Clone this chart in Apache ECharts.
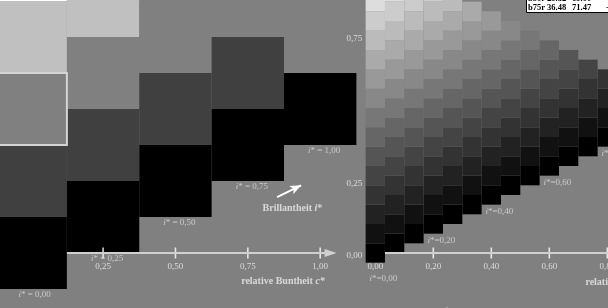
<!DOCTYPE html>
<html>
<head>
<meta charset="utf-8">
<script src="https://cdn.jsdelivr.net/npm/echarts@6/dist/echarts.min.js"></script>
<style>
  html, body { margin: 0; padding: 0; background: #808080; }
  #chart { width: 608px; height: 308px; }
</style>
</head>
<body>
<div id="chart"></div>
<script>
// left panel: relative Buntheit c* in quarter steps, gray level of each row (bottom = black)
const leftChroma = [0, 0.25, 0.5, 0.75, 1.0];
const leftLevels = [0, 64, 128, 192, 255];
const leftTicks = [0.25, 0.5, 0.75, 1.0];
const leftMarked = [0, 2]; // column, row of the outlined cell

// right panel: c* in steps of 1/15, 16 gray levels
const rightChroma = [0, 0.0667, 0.1333, 0.2, 0.2667, 0.3333, 0.4, 0.4667, 0.5333, 0.6, 0.6667, 0.7333, 0.8, 0.8667, 0.9333, 1.0];
const rightLevels = [0, 17, 34, 51, 68, 85, 102, 119, 136, 153, 170, 187, 204, 221, 238, 255];
const rightXLabels = [0, 0.2, 0.4, 0.6, 0.8, 1.0];
const rightTicks = [0.2, 0.4, 0.6, 0.8, 1.0];
const rightYLabels = [0, 0.25, 0.75];
const rightLabelCols = [0, 3, 6, 9, 12, 15];

const legendRows = [
  ['b50r', '29.32', '69.00', '-31.07'],
  ['b75r', '36.48', '71.47', '-22.64'],
];
const footText = 'rel. Buntheit c* und Brillantheit i* der Farbreihe b75r; CIELAB-Daten und Farbmetrik nach DIN 33872-5; Prüfvorlage BM51, Ausgabe 1';

const leftStep = 0.25;
const rightStep = 1 / 15;
const font = '"Liberation Serif", "DejaVu Serif", serif';
const textColor = '#dcdcdc';

const fmt = (v) => v.toFixed(2).replace('.', ',');
const near = (list, v) => list.some((t) => Math.abs(t - v) < 1e-6);

function buildCells(chroma, levels, step, marked) {
  const cells = [];
  chroma.forEach((c, k) => {
    for (let j = 0; j < levels.length - k; j++) {
      const isMarked = marked && marked[0] === k && marked[1] === j ? 1 : 0;
      cells.push([c, (j + k / 2) * step, levels[j], isMarked]);
    }
  });
  return cells;
}

function cellRenderer(step) {
  return function (params, api) {
    const p0 = api.coord([api.value(0) - step / 2, api.value(1) + step / 2]);
    const p1 = api.coord([api.value(0) + step / 2, api.value(1) - step / 2]);
    const g = api.value(2);
    const marked = api.value(3) === 1;
    return {
      type: 'rect',
      z2: marked ? 10 : 0,
      shape: { x: p0[0], y: p0[1], width: p1[0] - p0[0], height: p1[1] - p0[1] },
      style: {
        fill: `rgb(${g},${g},${g})`,
        stroke: marked ? '#d4d4d4' : null,
        lineWidth: marked ? 2 : 0,
      },
    };
  };
}

const richText = {
  i: { fontStyle: 'italic', fontFamily: font, fontSize: 9, color: textColor },
  b: { fontWeight: 'bold', fontFamily: font, fontSize: 10, color: '#eeeeee' },
  bi: { fontWeight: 'bold', fontStyle: 'italic', fontFamily: font, fontSize: 10, color: '#eeeeee' },
};

function axisArrow(start) {
  return {
    silent: true,
    animation: false,
    symbol: ['none', 'triangle'],
    label: { show: false },
    emphasis: { disabled: true },
    lineStyle: { color: '#d0d0d0', width: 2, type: 'solid' },
    itemStyle: { color: '#e8e8e8' },
    data: [[{ coord: [start, 0] }, { coord: [1.036, 0], symbolSize: [8, 12] }]],
  };
}

function tickSeries(idx, ticks, start) {
  return {
    type: 'scatter',
    xAxisIndex: idx,
    yAxisIndex: idx,
    silent: true,
    clip: false,
    z: 4,
    symbol: 'rect',
    symbolSize: [1.6, 11],
    itemStyle: { color: '#ffffff' },
    data: ticks.map((v) => [v, 0]),
    markLine: axisArrow(start),
  };
}

function labelSeries(idx, points, text, offsets) {
  return {
    type: 'scatter',
    xAxisIndex: idx,
    yAxisIndex: idx,
    silent: true,
    clip: false,
    z: 5,
    symbolSize: 1,
    itemStyle: { color: 'transparent' },
    data: points.map((p, n) => ({ value: p, label: { offset: offsets(n) } })),
    label: {
      show: true,
      position: 'inside',
      fontFamily: font,
      fontSize: 9,
      color: textColor,
      rich: richText,
      formatter: (p) => text(p.value[0]),
    },
  };
}

function noteSeries(idx, notes) {
  return {
    type: 'scatter',
    xAxisIndex: idx,
    yAxisIndex: idx,
    silent: true,
    clip: false,
    z: 5,
    symbolSize: 1,
    itemStyle: { color: 'transparent' },
    data: notes.map((n) => ({
      value: n.at,
      label: { show: true, position: 'inside', align: n.align, rich: richText, formatter: n.text },
    })),
  };
}

const chart = echarts.init(document.getElementById('chart'), null, { renderer: 'canvas' });

const xAxisBase = {
  type: 'value',
  min: 0,
  max: 1.1,
  axisLine: { show: false },
  axisTick: { show: false },
  splitLine: { show: false },
};

chart.setOption({
  backgroundColor: '#808080',
  animation: false,
  title: {
    left: 526,
    top: -7,
    padding: [1, 2, 1, 2],
    backgroundColor: '#ffffff',
    borderColor: '#000000',
    borderWidth: 1,
    text: legendRows.map((r) => `{n|${r[0]}}{v|${r[1]}}{w|${r[2]}}{v|${r[3]}}`).join('\n'),
    textStyle: {
      rich: {
        n: { width: 19, fontFamily: font, fontSize: 8.5, lineHeight: 9, color: '#000' },
        v: { width: 25, fontFamily: font, fontSize: 8.5, lineHeight: 9, color: '#000' },
        w: { width: 34, fontFamily: font, fontSize: 8.5, lineHeight: 9, color: '#000' },
      },
    },
  },
  graphic: [
    {
      type: 'text',
      left: 0,
      top: 307.5,
      silent: true,
      style: { text: footText, fill: '#d8d8d8', font: `10px ${font}` },
    },
  ],
  grid: [
    { left: 30.7, top: 0, width: 1.1 * 289.5, height: 253, outerBoundsMode: 'none', containLabel: false },
    { left: 375.3, top: 0, width: 1.1 * 290, height: 253, outerBoundsMode: 'none', containLabel: false },
  ],
  xAxis: [
    {
      ...xAxisBase,
      gridIndex: 0,
      interval: 0.25,
      axisLabel: {
        margin: 9,
        fontFamily: font,
        fontSize: 9,
        color: textColor,
        showMinLabel: true,
        formatter: (v) => (near(leftTicks, v) ? fmt(v) : ''),
      },
    },
    {
      ...xAxisBase,
      gridIndex: 1,
      interval: 0.2,
      axisLabel: {
        margin: 9,
        fontFamily: font,
        fontSize: 9,
        color: textColor,
        showMinLabel: true,
        formatter: (v) => (near(rightXLabels, v) ? fmt(v) : ''),
      },
    },
  ],
  yAxis: [
    { type: 'value', gridIndex: 0, min: 0, max: 253 / 288, interval: 0.25, show: false },
    {
      type: 'value',
      gridIndex: 1,
      min: 0,
      max: 253 / 290,
      interval: 0.25,
      axisLine: { show: false },
      axisTick: { show: false },
      splitLine: { show: false },
      axisLabel: {
        margin: 13,
        showMaxLabel: false,
        rich: { y: { fontFamily: font, fontSize: 9, color: textColor, padding: [6, 0, 0, 0] } },
        formatter: (v) => (near(rightYLabels, v) ? `{y|${fmt(v)}}` : ''),
      },
    },
  ],
  series: [
    {
      type: 'custom',
      xAxisIndex: 1,
      yAxisIndex: 1,
      clip: false,
      silent: true,
      z: 2,
      renderItem: cellRenderer(rightStep),
      data: buildCells(rightChroma, rightLevels, rightStep, null),
    },
    {
      type: 'custom',
      xAxisIndex: 0,
      yAxisIndex: 0,
      clip: false,
      silent: true,
      z: 3,
      renderItem: cellRenderer(leftStep),
      data: buildCells(leftChroma, leftLevels, leftStep, leftMarked),
    },
    tickSeries(0, leftTicks, leftStep / 2),
    tickSeries(1, rightTicks, rightStep / 2),
    labelSeries(
      0,
      leftChroma.map((c, k) => [c, (k / 2 - 0.5) * leftStep]),
      (c) => `{i|i}* = ${fmt(c)}`,
      () => [4, 6]
    ),
    labelSeries(
      1,
      rightLabelCols.map((k) => [rightChroma[k], (k / 2 - 0.5) * rightStep]),
      (c) => `{i|i}*=${fmt(c)}`,
      (n) => (n === 0 ? [8, 16] : [8, 7])
    ),
    {
      ...noteSeries(0, [
        { at: [1.016, -0.1], align: 'right', text: '{b|relative Buntheit }{bi|c*}' },
        { at: [0.904, 0.156], align: 'center', text: '{b|Brillantheit }{bi|i}{b|*}' },
      ]),
      markLine: {
        silent: true,
        animation: false,
        symbol: ['none', 'arrow'],
        label: { show: false },
        emphasis: { disabled: true },
        lineStyle: { color: '#ffffff', width: 2, type: 'solid' },
        data: [[{ coord: [0.851, 0.194] }, { coord: [0.934, 0.235], symbolSize: [7, 11] }]],
      },
    },
    noteSeries(1, [{ at: [1.013, -0.1], align: 'right', text: '{b|relative Buntheit }{bi|c*}' }]),
  ],
});
</script>
</body>
</html>
